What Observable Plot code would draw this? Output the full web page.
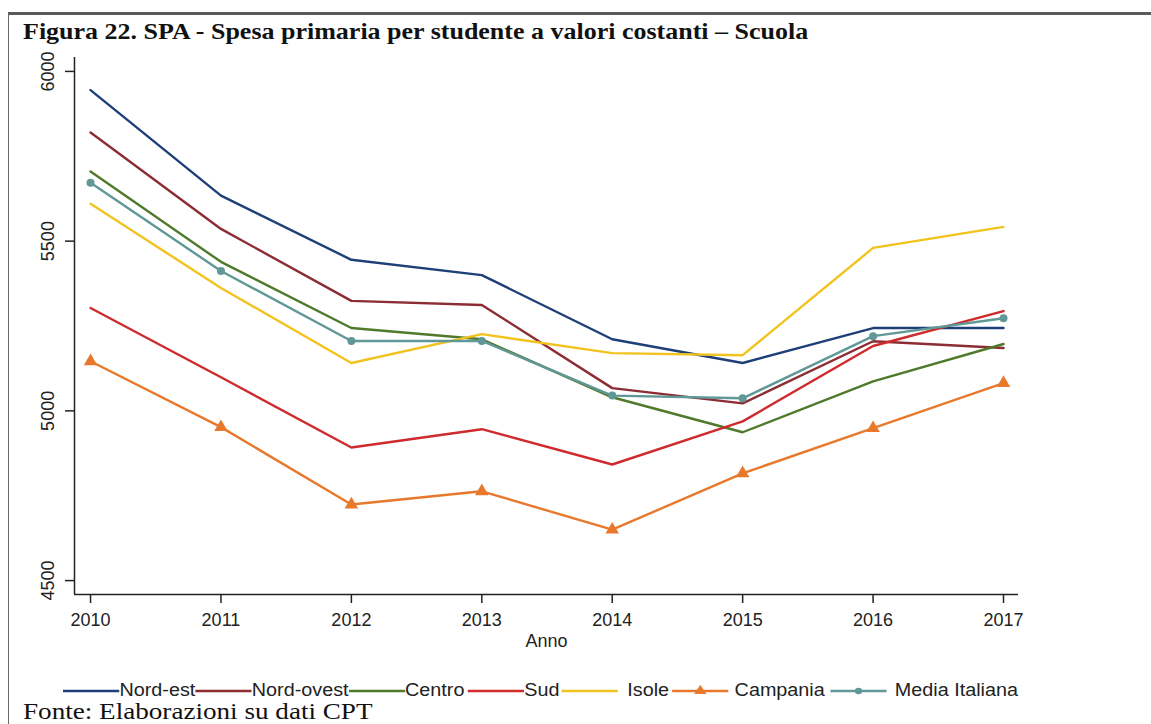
<!DOCTYPE html>
<html>
<head>
<meta charset="utf-8">
<script src="https://cdn.jsdelivr.net/npm/d3@7"></script>
<script src="https://cdn.jsdelivr.net/npm/@observablehq/plot@0.6"></script>
<style>
  html, body { margin: 0; padding: 0; background: #fff; }
  body { width: 1151px; height: 724px; position: relative; overflow: hidden; }
  #frame { position: absolute; left: 8px; top: 12px; width: 1160px; height: 720px;
           border-top: 3px solid #5a5a5a; border-left: 1.5px solid #6a6a6a; }
  #title { position: absolute; left: 23px; top: 20px; font-family: "Liberation Serif", serif; line-height: 1;
           font-weight: bold; font-size: 23px; color: #111; white-space: nowrap;
           transform: scaleX(1.13); transform-origin: 0 0; }
  #chart { position: absolute; left: 0; top: 0; }
  #legend { position: absolute; left: 63px; top: 682px; display: flex; align-items: center;
            font-family: "Liberation Sans", Arial, sans-serif; font-size: 17.5px; line-height: 1; color: #222; white-space: nowrap;
            transform: scaleX(1.13); transform-origin: 0 0; }
  #legend .item { display: flex; align-items: center; }
  #legend svg { display: block; }
  #caption { position: absolute; left: 23px; top: 699px; font-family: "Liberation Serif", serif; line-height: 1;
             font-size: 24px; color: #111; white-space: nowrap;
             transform: scaleX(1.13); transform-origin: 0 0; }
</style>
</head>
<body>
<div id="frame"></div>
<div id="chart"></div>
<div id="title">Figura 22. SPA - Spesa primaria per studente a valori costanti – Scuola</div>
<div id="legend"></div>
<div id="caption">Fonte: Elaborazioni su dati CPT</div>
<script>
// ---- data ----
const years = [2010, 2011, 2012, 2013, 2014, 2015, 2016, 2017];
const seriesNames = ["Nord-est", "Nord-ovest", "Centro", "Sud", "Isole", "Campania", "Media Italiana"];
const nordEst      = [5945, 5634, 5445, 5400, 5211, 5141, 5244, 5244];
const nordOvest    = [5820, 5536, 5324, 5312, 5067, 5022, 5205, 5185];
const centro       = [5705, 5439, 5244, 5211, 5040, 4937, 5087, 5197];
const sud          = [5303, 5099, 4892, 4946, 4842, 4969, 5191, 5294];
const isole        = [5610, 5362, 5141, 5226, 5170, 5164, 5480, 5542];
const campania     = [5146, 4952, 4724, 4763, 4650, 4816, 4949, 5082];
const mediaItalia  = [5672, 5412, 5206, 5206, 5045, 5037, 5220, 5273];
const yTicks = [4500, 5000, 5500, 6000];
const xLabel = "Anno";
const colors = ["#1f3f78", "#8c2c33", "#4f7a2b", "#cf2a2e", "#f2c31e", "#e8792c", "#5f9896"];

const values = [nordEst, nordOvest, centro, sud, isole, campania, mediaItalia];
const table = [];
seriesNames.forEach((s, i) => years.forEach((yr, j) => table.push({serie: s, anno: yr, valore: values[i][j]})));

const xDomain = [2009.877, 2017.115];
const yDomain = [4459, 6041];

const chart = Plot.plot({
  width: 1151,
  height: 660,
  marginLeft: 74,
  marginRight: 133,
  marginTop: 57,
  marginBottom: 66,
  style: {fontFamily: "'Liberation Sans', Arial, sans-serif", fontSize: "18px", color: "#222", background: "transparent"},
  x: {domain: xDomain, ticks: years, tickFormat: "d"},
  y: {domain: yDomain, ticks: yTicks, tickFormat: "d"},
  color: {domain: seriesNames, range: colors},
  marks: [
    Plot.axisX({ticks: years, tickFormat: "d", tickSize: 9, tickPadding: 10, label: xLabel, labelAnchor: "center", labelArrow: "none", labelOffset: 52, strokeWidth: 1.5}),
    Plot.axisY({ticks: yTicks, tickFormat: "d", tickSize: 9, tickRotate: -90, textAnchor: "middle", lineAnchor: "bottom", tickPadding: 12, label: null, strokeWidth: 1.5}),
    Plot.ruleX([xDomain[0]], {stroke: "#222", strokeWidth: 1.5}),
    Plot.ruleY([yDomain[0]], {stroke: "#222", strokeWidth: 1.5}),
    Plot.line(table, {x: "anno", y: "valore", z: "serie", stroke: "serie", strokeWidth: 2.4}),
    Plot.dot(table.filter(d => d.serie === "Campania"), {x: "anno", y: "valore", symbol: "triangle", r: 5, fill: "serie", stroke: null}),
    Plot.dot(table.filter(d => d.serie === "Media Italiana"), {x: "anno", y: "valore", symbol: "circle", r: 4, fill: "serie", stroke: null})
  ]
});
document.getElementById("chart").appendChild(chart);

// ---- legend ----
const legend = d3.select("#legend");
const gapsBefore = [0, 0, 0, 0, 8, 5, 7];
const gapsAfter = [0, 0, 3, 2, 3, 5, 0];
seriesNames.forEach((s, i) => {
  const item = legend.append("div").attr("class", "item");
  const sw = item.append("svg").attr("width", 50).attr("height", 14);
  sw.append("line").attr("x1", 0).attr("x2", 50).attr("y1", 7).attr("y2", 7)
    .attr("stroke", colors[i]).attr("stroke-width", 2.4);
  if (s === "Campania") sw.append("path").attr("d", d3.symbol(d3.symbolTriangle, 50)()).attr("transform", "translate(25,7)").attr("fill", colors[i]);
  if (s === "Media Italiana") sw.append("circle").attr("cx", 25).attr("cy", 7).attr("r", 3.2).attr("fill", colors[i]);
  item.append("span").text(s).style("margin-left", gapsBefore[i] + "px").style("margin-right", gapsAfter[i] + "px");
});
</script>
</body>
</html>
